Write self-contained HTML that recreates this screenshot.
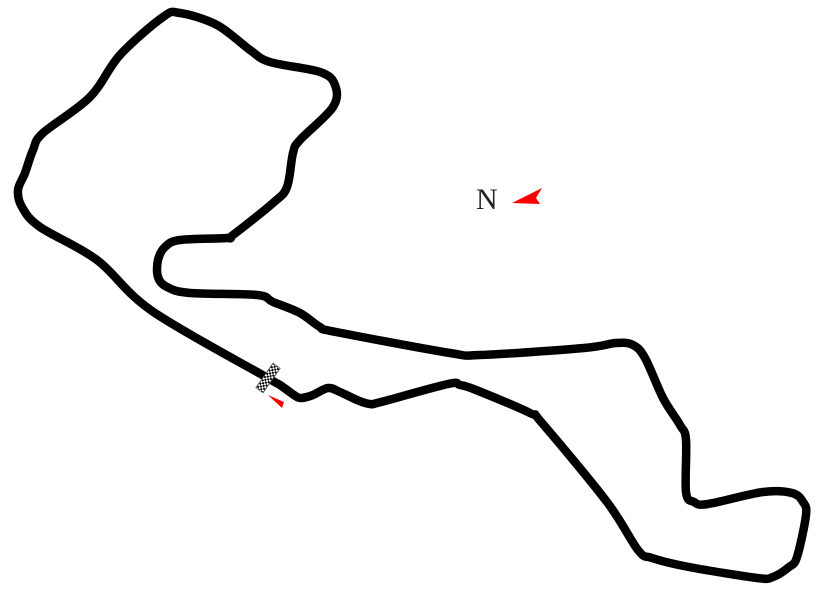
<!DOCTYPE html>
<html><head><meta charset="utf-8"><style>
html,body{margin:0;padding:0;background:#fff;}
svg{display:block;}
</style></head><body>
<svg width="825" height="603" viewBox="0 0 825 603" xmlns="http://www.w3.org/2000/svg">
<defs>
<pattern id="chk" width="4" height="4" patternUnits="userSpaceOnUse">
<rect width="4" height="4" fill="#fff"/><rect width="2" height="2" fill="#000"/><rect x="2" y="2" width="2" height="2" fill="#000"/>
</pattern>
</defs>
<polyline id="trk" fill="none" stroke="#000" stroke-width="8.5" stroke-linejoin="round" stroke-linecap="round"
points="266,377 152,311 97,260 40,227 22,207 18,190 25,173 33,150 43,133 90,97 120,55 163,17 180,13 217,25 250,50 270,62 320,72 335,85 333,107 300,140 293,153 287,187 273,203 233,235 227,238 180,240 165,247 158,260 158,277 167,287 190,293 257,295 273,302 300,313 320,327 336,332 450,353 480,355 584,348 616,343 633,345 645,358 663,398 680,425 686,440 686,492 694,502 708,504 763,492 792,493 803,502 806,515 797,557 789,567 773,577 757,578 689,567 652,558 638,550 607,502 542,423 530,413 476,390 460,385 448,384 381,402 370,404 357,400 340,392 328,388 313,395 301,398 294,395 280,385 266,377"/>
<rect x="-4.5" y="-15" width="9" height="30" fill="url(#chk)" stroke="#333" stroke-width="0.5" transform="translate(268,378) rotate(35)"/>
<polygon points="268,395 284,402 282,408" fill="#f00"/>
<text x="476" y="209" font-family="Liberation Serif, serif" font-size="30" fill="#222">N</text>
<polygon points="512,203 542,188 536,198 540,204" fill="#f00"/>
</svg>
<script>
(function(){
var pl=document.getElementById('trk');
var pts=pl.getAttribute('points').trim().split(/\s+/).map(function(s){return s.split(',').map(Number);});
pts.pop();var n=pts.length;
var d='M'+pts[0][0]+','+pts[0][1];
for(var i=0;i<n;i++){
var p0=pts[(i-1+n)%n],p1=pts[i],p2=pts[(i+1)%n],p3=pts[(i+2)%n];
var c1=[p1[0]+(p2[0]-p0[0])/6,p1[1]+(p2[1]-p0[1])/6];
var c2=[p2[0]-(p3[0]-p1[0])/6,p2[1]-(p3[1]-p1[1])/6];
d+=' C'+c1[0].toFixed(1)+','+c1[1].toFixed(1)+' '+c2[0].toFixed(1)+','+c2[1].toFixed(1)+' '+p2[0]+','+p2[1];
}
var p=document.createElementNS('http://www.w3.org/2000/svg','path');
p.setAttribute('d',d+'Z');p.setAttribute('fill','none');p.setAttribute('stroke','#000');
p.setAttribute('stroke-width','8.5');p.setAttribute('stroke-linejoin','round');
pl.parentNode.replaceChild(p,pl);
})();
</script>
</body></html>
